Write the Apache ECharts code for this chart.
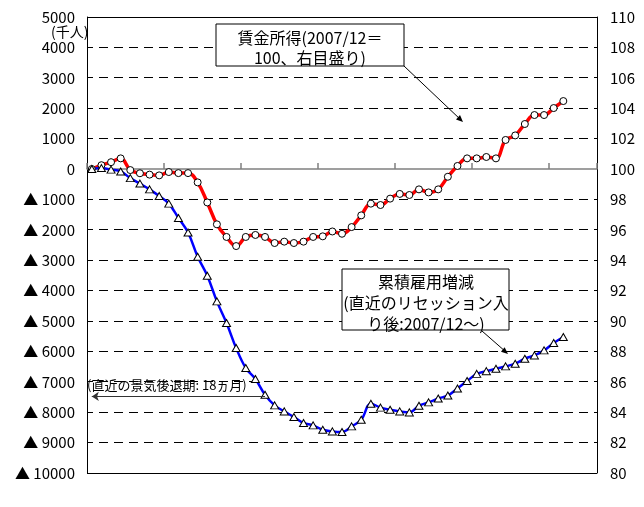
<!DOCTYPE html>
<html>
<head>
<meta charset="utf-8">
<script src="https://cdn.jsdelivr.net/npm/echarts@6/dist/echarts.min.js"></script>
<style>
    html, body { margin: 0; padding: 0; background: #fff; }
    #chart { width: 644px; height: 507px; }
</style>
</head>
<body>
<div id="chart"></div>
<script>
    // months since the start of the recession (2007/12)
    var months = [0, 1, 2, 3, 4, 5, 6, 7, 8, 9, 10, 11, 12, 13, 14, 15, 16, 17, 18, 19,
        20, 21, 22, 23, 24, 25, 26, 27, 28, 29, 30, 31, 32, 33, 34, 35, 36, 37, 38, 39,
        40, 41, 42, 43, 44, 45, 46, 47, 48, 49, 50, 51, 52];

    // 賃金所得 (2007/12=100, right axis)
    var wage = [100.0, 100.25, 100.45, 100.7, 99.93, 99.72, 99.63, 99.58, 99.8, 99.73,
        99.73, 99.12, 97.8, 96.36, 95.53, 94.93, 95.53, 95.66, 95.53, 95.13,
        95.22, 95.13, 95.22, 95.53, 95.57, 95.89, 95.74, 96.18, 96.95, 97.72,
        97.63, 98.05, 98.36, 98.29, 98.66, 98.46, 98.66, 99.49, 100.2, 100.7,
        100.7, 100.79, 100.7, 101.91, 102.21, 102.96, 103.55, 103.55, 104.01, 104.47];

    // 累積雇用増減 (千人, left axis)
    var employment = [0, 30, -20, -80, -300, -480, -670, -890, -1140, -1610,
        -2090, -2885, -3510, -4355, -5066, -5888, -6546, -6908, -7424, -7776,
        -7974, -8158, -8355, -8434, -8576, -8632, -8651, -8467, -8247, -7720,
        -7850, -7918, -7974, -8007, -7786, -7677, -7550, -7450, -7220, -6975,
        -6740, -6650, -6569, -6493, -6405, -6240, -6132, -5967, -5724, -5526];

    // dashed grid lines and solid frame lines (left axis values)
    var gridValues = [4000, 3000, 2000, 1000, -1000, -2000, -3000, -4000, -5000,
        -6000, -7000, -8000, -9000];
    var frameValues = [5000, -10000];

    // previous recession length marker (18 months)
    var prevRecession = [18, 0];
    var prevRecessionLevel = -7480;

    var FONT = "'Noto Sans CJK JP', 'Noto Sans', sans-serif";

    var chart = echarts.init(document.getElementById('chart'));

    // horizontal line: solid frame (flag 1) or dashed grid line (flag 0)
    function renderGridLine(params, api) {
        var cs = params.coordSys;
        var y = Math.floor(api.coord([0, api.value(1)])[1]);
        var children = [];
        if (api.value(2) === 1) {
            children.push({ type: 'rect', shape: { x: cs.x, y: y, width: cs.width, height: 1 }, style: { fill: '#000' } });
        } else {
            for (var x = cs.x - 3; x < cs.x + cs.width; x += 15) {
                var x1 = Math.max(x, cs.x);
                var x2 = Math.min(x + 9, cs.x + cs.width);
                if (x2 > x1) {
                    children.push({ type: 'rect', shape: { x: x1, y: y, width: x2 - x1, height: 1 }, style: { fill: '#000' } });
                }
            }
        }
        return { type: 'group', children: children };
    }

    var lineData = gridValues.map(function (v) { return [0, v, 0]; })
        .concat(frameValues.map(function (v) { return [0, v, 1]; }));

    chart.setOption({
        animation: false,
        backgroundColor: '#fff',
        grid: {
            left: 87, right: 47, top: 17, bottom: 34,
            show: false, containLabel: false, outerBoundsMode: 'none'
        },
        xAxis: [
            {
                type: 'category',
                data: months,
                axisLine: { onZero: true, onZeroAxisIndex: 0, lineStyle: { color: '#808080', width: 1.5 } },
                axisTick: { show: true, inside: true, length: 6, interval: 7, lineStyle: { color: '#808080', width: 1.5 } },
                axisLabel: {
                    interval: 7,
                    margin: 323,
                    fontSize: 15,
                    fontFamily: FONT,
                    color: '#000',
                    formatter: function (v) { return v + 'ヵ月'; }
                },
                splitLine: { show: false }
            }
        ],
        yAxis: [
            {
                type: 'value',
                min: -10000, max: 5000, interval: 1000,
                axisLine: { show: true, lineStyle: { color: '#000', width: 1 } },
                axisTick: { show: false },
                axisLabel: {
                    margin: 12,
                    fontSize: 15,
                    fontFamily: FONT,
                    color: '#000',
                    formatter: function (v) { return v < 0 ? '▲ ' + (-v) : String(v); }
                },
                splitLine: { show: false }
            },
            {
                type: 'value',
                min: 80, max: 110, interval: 2,
                axisLine: { show: true, lineStyle: { color: '#000', width: 1 } },
                axisTick: { show: false },
                axisLabel: {
                    margin: 13,
                    fontSize: 15,
                    fontFamily: FONT,
                    color: '#000'
                },
                splitLine: { show: false }
            }
        ],
        series: [
            {
                name: 'grid',
                type: 'custom',
                silent: true,
                z: 1,
                data: lineData,
                renderItem: renderGridLine
            },
            {
                name: '賃金所得',
                type: 'line',
                yAxisIndex: 1,
                data: wage,
                smooth: 0.4,
                showSymbol: true,
                showAllSymbol: true,
                symbol: 'circle',
                symbolSize: 7,
                lineStyle: { color: '#ff0000', width: 3.5 },
                itemStyle: { color: '#fff', borderColor: '#000', borderWidth: 1 }
            },
            {
                name: '累積雇用増減',
                type: 'line',
                yAxisIndex: 0,
                data: employment,
                smooth: 0.4,
                showSymbol: true,
                showAllSymbol: true,
                symbol: 'triangle',
                symbolSize: [8, 7],
                lineStyle: { color: '#0000ff', width: 2.5 },
                itemStyle: { color: '#fff', borderColor: '#000', borderWidth: 1 },
                markLine: {
                    silent: true,
                    symbol: ['none', 'arrow'],
                    symbolSize: 7,
                    label: { show: false },
                    lineStyle: { color: '#333', width: 1, type: 'solid' },
                    data: [[
                        { coord: [prevRecession[0], prevRecessionLevel] },
                        { coord: [prevRecession[1], prevRecessionLevel] }
                    ]]
                }
            }
        ],
        graphic: [
            // (千人)
            {
                type: 'text', left: 51, top: 25, z: 10,
                style: { text: '(千人)', font: '14px ' + FONT, fill: '#000' }
            },
            // wage callout
            {
                type: 'rect', z: 10,
                shape: { x: 216, y: 24, width: 188, height: 42 },
                style: { fill: '#fff', stroke: '#000', lineWidth: 1 }
            },
            {
                type: 'text', z: 11, x: 310, y: 28,
                style: {
                    text: '賃金所得(2007/12＝\n100、右目盛り)',
                    font: '16px ' + FONT, fill: '#000', align: 'center', lineHeight: 20
                }
            },
            {
                type: 'line', z: 10,
                shape: { x1: 404, y1: 66, x2: 461, y2: 120 },
                style: { stroke: '#000', lineWidth: 1 }
            },
            {
                type: 'polygon', z: 10,
                shape: { points: [[463, 122], [456, 119.4], [460, 115]] },
                style: { fill: '#000' }
            },
            // employment callout
            {
                type: 'rect', z: 10,
                shape: { x: 342, y: 269, width: 167, height: 61 },
                style: { fill: '#fff', stroke: '#000', lineWidth: 1 }
            },
            {
                type: 'text', z: 11, x: 426, y: 271,
                style: {
                    text: '累積雇用増減\n(直近のリセッション入\nり後:2007/12～)',
                    font: '16px ' + FONT, fill: '#000', align: 'center', lineHeight: 21
                }
            },
            {
                type: 'line', z: 10,
                shape: { x1: 482, y1: 331, x2: 506, y2: 352 },
                style: { stroke: '#000', lineWidth: 1 }
            },
            {
                type: 'polygon', z: 10,
                shape: { points: [[508, 354], [501, 351.8], [504.6, 347.2]] },
                style: { fill: '#000' }
            },
            // previous recession label
            {
                type: 'text', z: 10, left: 87, top: 379,
                style: { text: '(直近の景気後退期: 18ヵ月)', font: '13px ' + FONT, fill: '#000' }
            }
        ]
    });
</script>
</body>
</html>
